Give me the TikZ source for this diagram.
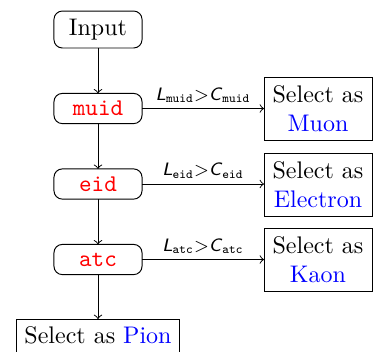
\documentclass[tikz,border=0pt]{standalone}
\usepackage{fontspec}
\usetikzlibrary{arrows}
\begin{document}
\begin{tikzpicture}[x=0.41667pt,y=-0.41667pt,
  cut/.style={draw,rounded corners=3.5pt,minimum width=36.7pt,minimum height=12.6pt,inner sep=0pt,outer sep=0pt,font=\ttfamily,text=red},
  res/.style={draw,minimum width=45pt,minimum height=26.25pt,inner sep=0pt,outer sep=0pt,align=center},
  lab/.style={above,font=\fontsize{7.5}{9}\selectfont\sffamily,inner sep=2.2pt}]
\useasboundingbox (0,0) rectangle (381,351);
\node[draw,rounded corners=3.5pt,minimum width=36.7pt,minimum height=15.4pt,inner sep=0pt,outer sep=0pt] (in) at (98,29.5) {Input};
\node[cut] (muid) at (98,108.5) {muid};
\node[cut] (eid) at (98,184) {eid};
\node[cut] (atc) at (98,259.5) {atc};
\node[res] (mu) at (318,108.5) {Select as\\\textcolor{blue}{Muon}};
\node[res] (el) at (318,184.5) {Select as\\\textcolor{blue}{Electron}};
\node[res] (ka) at (318,259.5) {Select as\\\textcolor{blue}{Kaon}};
\node[draw,minimum width=68.3pt,minimum height=13.75pt,inner sep=0pt,outer sep=0pt] (pi) at (98,335.5) {Select as \textcolor{blue}{Pion}};
\draw[->] (in) -- (muid);
\draw[->] (muid) -- (eid);
\draw[->] (eid) -- (atc);
\draw[->] (atc) -- (pi);
\draw[->] (muid) -- node[lab] {\textit{L}\textsubscript{\texttt{muid}}>\textit{C}\textsubscript{\texttt{muid}}} (mu);
\draw[->] (eid) -- node[lab] {\textit{L}\textsubscript{\texttt{eid}}>\textit{C}\textsubscript{\texttt{eid}}} (eid -| el.west);
\draw[->] (atc) -- node[lab] {\textit{L}\textsubscript{\texttt{atc}}>\textit{C}\textsubscript{\texttt{atc}}} (ka);
\end{tikzpicture}
\end{document}
